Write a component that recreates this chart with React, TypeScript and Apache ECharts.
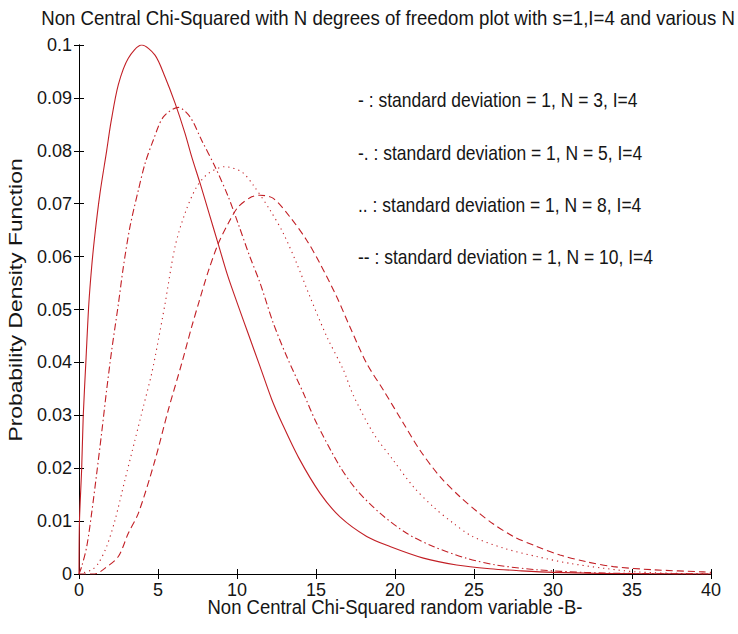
import React, { useEffect, useRef } from "react";
import * as echarts from "echarts";

const titleText = "Non Central Chi-Squared with N degrees of freedom plot with s=1,I=4 and various N";
const xLabel = "Non Central Chi-Squared random variable -B-";
const yLabel = "Probability Density Function";
const legendTexts = [
  "- : standard deviation = 1, N = 3, I=4",
  "-. : standard deviation = 1, N = 5, I=4",
  ".. : standard deviation = 1, N = 8, I=4",
  "-- : standard deviation = 1, N = 10, I=4",
];

const n3: [number, number][] = [
  [0, 0], [0.03, 0.01], [0.17, 0.02], [0.27, 0.03], [0.45, 0.041], [0.62, 0.051], [0.8, 0.058],
  [1.0, 0.064], [1.33, 0.072], [1.75, 0.08], [2.03, 0.0855], [2.49, 0.0925], [3.12, 0.0975],
  [3.97, 0.1], [4.81, 0.0981], [5.44, 0.094], [6.08, 0.089], [6.71, 0.0833], [7.13, 0.0789],
  [7.7, 0.0735], [8.2, 0.0685], [8.8, 0.0625], [9.4, 0.0565], [10.1, 0.0505], [10.7, 0.0455],
  [11.46, 0.0392], [12.2, 0.033], [12.85, 0.0285], [13.9, 0.022], [15.25, 0.0153], [16.52, 0.0108],
  [18.21, 0.0071], [19.68, 0.0052], [21.8, 0.003], [23.9, 0.0017], [26, 0.001], [28, 0.0006],
  [30, 0.0003], [33, 0.0001], [36, 0.00005], [40, 0],
];

const n5: [number, number][] = [
  [0, 0], [0.17, 0.0014], [0.49, 0.0052], [0.8, 0.0115], [1.12, 0.019], [1.43, 0.0266],
  [1.75, 0.0348], [2.07, 0.0423], [2.49, 0.051], [2.81, 0.0581], [3.23, 0.0657], [3.76, 0.0726],
  [4.18, 0.0776], [4.7, 0.082], [5.34, 0.0864], [6.29, 0.0882], [7.03, 0.0864], [7.76, 0.082],
  [8.61, 0.077], [9.45, 0.0713], [10.1, 0.066], [10.75, 0.0605], [11.46, 0.055], [12.3, 0.0474],
  [13.15, 0.0411], [14.2, 0.0342], [15.04, 0.0285], [16.52, 0.0203], [17.57, 0.0159],
  [19.05, 0.0115], [20.74, 0.0077], [22.42, 0.0052], [24.5, 0.003], [26.4, 0.0017], [29, 0.0008],
  [32, 0.0003], [35, 0.0001], [40, 0],
];

const n8: [number, number][] = [
  [0, 0], [0.8, 0.0008], [1.22, 0.002], [1.75, 0.0052], [2.28, 0.0102], [2.91, 0.0178],
  [3.54, 0.0253], [4.07, 0.0316], [4.6, 0.0379], [5.02, 0.0442], [5.44, 0.051], [6.08, 0.0619],
  [6.71, 0.0682], [7.45, 0.0732], [8.18, 0.0757], [9.24, 0.077], [10.3, 0.076], [11.03, 0.0735],
  [12.09, 0.0688], [12.93, 0.0644], [13.78, 0.0587], [14.62, 0.0524], [15.68, 0.0449],
  [16.73, 0.0386], [17.36, 0.0338], [18.63, 0.0266], [19.89, 0.0215], [21.16, 0.0165],
  [22.42, 0.0127], [23.69, 0.0096], [24.9, 0.0071], [26.86, 0.0049], [28.97, 0.0033],
  [31.08, 0.002], [33.18, 0.0011], [35.3, 0.0004], [38, 0.0001], [40, 0],
];

const n10: [number, number][] = [
  [0, 0], [1.0, 0], [1.65, 0.0011], [2.49, 0.0033], [3.12, 0.0077], [3.76, 0.0115], [4.81, 0.0215],
  [5.65, 0.031], [6.5, 0.0398], [7.13, 0.0467], [7.6, 0.0515], [8.18, 0.0572], [8.82, 0.0625],
  [9.45, 0.0663], [10.08, 0.0694], [10.93, 0.0713], [11.46, 0.0716], [12.3, 0.071], [13.35, 0.0675],
  [14.41, 0.0631], [15.25, 0.0587], [16.31, 0.0524], [17.15, 0.0467], [18.21, 0.0398],
  [19.3, 0.0346], [20.53, 0.0285], [21.58, 0.0234], [22.85, 0.0184], [24.11, 0.0146], [25.2, 0.0118],
  [26.2, 0.0095], [27.49, 0.0071], [28.97, 0.0052], [30.44, 0.0036], [32.13, 0.0023],
  [33.82, 0.0014], [36.35, 0.0008], [39.5, 0.0004], [40, 0.0003],
];

const FONT = "'Liberation Sans', Arial, sans-serif";
const RED = "#c21f25";
const TXT = "#151515";

export default function App() {
  const ref = useRef<HTMLDivElement>(null);
  useEffect(() => {
    const chart = echarts.init(ref.current!, null, { renderer: "svg" });
    const axisCommon = {
      type: "value" as const,
      axisLine: { show: true, lineStyle: { color: "#000", width: 1 } },
      axisTick: { show: true, inside: true, length: 5, lineStyle: { color: "#000" } },
      splitLine: { show: false },
    };
    const mkLine = (name: string, data: [number, number][], type: any) => ({
      name,
      type: "line",
      data,
      showSymbol: false,
      smooth: 0.3,
      xAxisIndex: 0,
      yAxisIndex: 0,
      lineStyle: { color: RED, width: 1.1, type },
    });
    const txt = (text: string, x: number, y: number, size: number, align: string, extra: any = {}) => ({
      type: "text",
      x,
      y,
      ...extra,
      style: {
        text,
        fill: TXT,
        font: `${size}px ${FONT}`,
        textAlign: align,
        textVerticalAlign: "middle",
      },
    });
    chart.setOption({
      animation: false,
      backgroundColor: "#fff",
      grid: { left: 79, right: 27, top: 45, bottom: 60, containLabel: false },
      xAxis: [
        {
          ...axisCommon,
          position: "bottom",
          min: 0,
          max: 40,
          interval: 5,
          axisLabel: { color: TXT, fontSize: 18, fontFamily: FONT, margin: 7 },
        },
        {
          ...axisCommon,
          position: "top",
          min: 0,
          max: 40,
          interval: 5,
          axisLabel: { show: false },
        },
      ],
      yAxis: [
        {
          ...axisCommon,
          position: "left",
          min: 0,
          max: 0.1,
          interval: 0.01,
          axisLabel: { color: TXT, fontSize: 18, fontFamily: FONT, margin: 7 },
        },
        {
          ...axisCommon,
          position: "right",
          min: 0,
          max: 0.1,
          interval: 0.01,
          axisLabel: { show: false },
        },
      ],
      series: [
        mkLine("N=3", n3, "solid"),
        mkLine("N=5", n5, [7, 3, 1.5, 3]),
        mkLine("N=8", n8, [1.2, 4]),
        mkLine("N=10", n10, [7, 4]),
      ],
      graphic: [
        txt(titleText, 388, 18, 18, "center", { scaleX: 1.035, scaleY: 1.15 }),
        txt(xLabel, 395, 607, 18.5, "center", { scaleY: 1.05 }),
        txt(yLabel, 15, 300, 18, "center", { rotation: Math.PI / 2, scaleX: 1.27 }),
        ...legendTexts.map((t, i) =>
          txt(t, 358, [100, 153, 205, 257][i], 17.5, "left", { scaleY: 1.12 })
        ),
      ],
    });
    return () => chart.dispose();
  }, []);
  return (
    <div
      ref={ref}
      style={{ position: "fixed", left: 0, top: 0, width: 738, height: 634, background: "#fff" }}
    />
  );
}
